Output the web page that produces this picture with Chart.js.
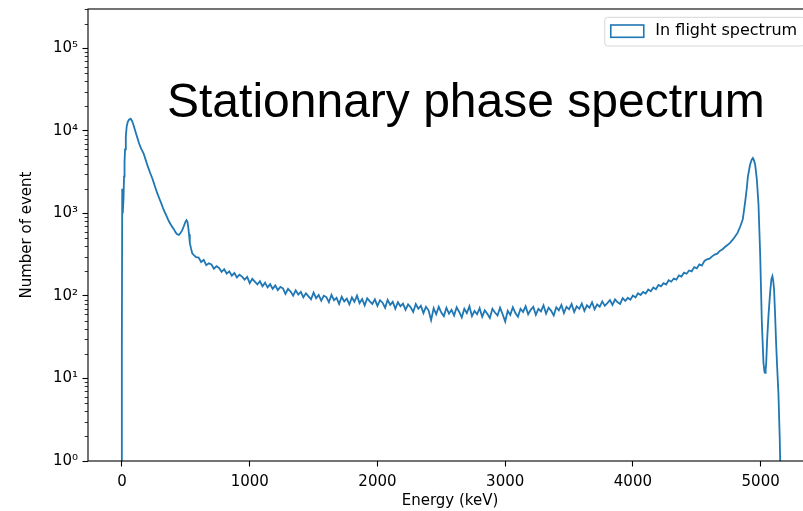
<!DOCTYPE html>
<html><head><meta charset="utf-8">
<script src="https://cdn.jsdelivr.net/npm/chart.js@4"></script>
<style>
html,body{margin:0;padding:0;background:#fff;overflow:hidden;width:803px;height:511px}
#wrap{position:relative;width:820px;height:511px}
#c{position:absolute;left:0;top:0}
#note{position:absolute;left:167px;top:78px;font-family:"Liberation Sans",Arial,sans-serif;font-size:48px;line-height:46px;color:#000;white-space:nowrap}
</style></head><body>
<div id="wrap"><canvas id="c" width="820" height="511"></canvas><div id="note">Stationnary phase spectrum</div></div>
<script>
const seriesLabel = 'In flight spectrum';
const xTitle = 'Energy (keV)';
const yTitle = 'Number of event';
const xTickValues = [0, 1000, 2000, 3000, 4000, 5000];
const yTickValues = [1, 10, 100, 1000, 10000, 100000];
const yTickLabels = ['10⁰', '10¹', '10²', '10³', '10⁴', '10⁵'];

// low-energy part (keV, counts)
const lowEnergies = [-20, -1, -1, 2, 4, 6, 8, 12, 16, 20, 24, 30, 37, 45, 55, 68, 78, 89, 100, 116, 135, 150, 168, 185, 200, 221, 240, 255, 274, 290, 310, 326, 345, 366, 385, 405, 420, 432, 445, 458, 470, 484, 495, 505, 512, 518, 525, 531, 540, 550, 565, 580];
const lowCounts = [0.3, 0.3, 25, 2000, 1200, 1900, 1000, 1500, 2800, 4200, 6000, 8500, 11400, 12800, 13700, 14100, 13300, 12000, 10500, 8700, 7000, 6100, 5400, 4500, 3800, 3100, 2600, 2200, 1800, 1550, 1300, 1110, 960, 810, 720, 650, 590, 560, 550, 580, 620, 700, 780, 830, 800, 700, 560, 440, 380, 330, 310, 295];

// continuum, 20 keV bins starting at 600 keV
const midStart = 600;
const midBinWidth = 20;
const midCounts = [
  292,258,274,236,249,241,214,230,219,196,
  211,187,199,176,190,168,181,172,158,170,
  143,162,149,138,151,131,145,127,139,122,
  134,118,129,124,106,122,113,101,117,104,
  112,96,108,99,91,110,94,103,88,101,
  97,84,103,89,95,80,98,86,93,79,
  96,85,101,82,92,77,94,86,80,91,
  76,89,83,72,90,78,85,70,84,75,
  81,68,79,73,64,80,70,76,62,74,
  67,51,71,60,74,63,57,72,61,68,
  58,73,64,55,70,62,75,57,66,60,
  71,56,67,61,54,70,63,58,72,60,
  49,66,59,73,62,56,70,64,75,60,
  68,74,59,70,65,77,61,72,66,58,
  73,67,78,62,74,69,80,64,75,70,
  81,66,77,72,84,69,79,74,86,76,
  82,89,78,91,84,80,94,87,
  95,90,101,96,108,103,112,107,120,114,
  127,121,136,131,143,138,155,149,163,158,
  178,172,192,186,204,199,224,216,241,233,
  266,278,284,302,318,326,352,366,392,414,
  440,478,525,585
];

// high-energy peaks (keV, counts)
const highEnergies = [4841, 4860, 4878, 4891, 4900, 4917, 4930, 4939, 4948, 4957, 4970, 4983, 4996, 5009, 5022, 5030, 5035, 5039, 5043, 5051, 5061, 5074, 5084, 5092, 5099, 5105, 5113, 5121, 5129, 5139, 5149, 5153, 5158, 5170];
const highCounts = [700, 850, 1350, 2000, 2800, 3900, 4500, 4700, 4400, 3900, 2600, 1300, 330, 50, 15.5, 12, 11.7, 13, 14.8, 30, 57, 109, 160, 174, 150, 120, 60, 27, 14, 6.7, 2, 1, 0.3, 0.3];

const points = [];
lowEnergies.forEach((e, i) => points.push({x: e, y: lowCounts[i]}));
midCounts.forEach((c, i) => points.push({x: midStart + i * midBinWidth, y: c}));
highEnergies.forEach((e, i) => points.push({x: e, y: highCounts[i]}));

const lineColor = '#1f77b4';
const FONT = 'DejaVu Sans';

const framePlugin = {
  id: 'frame',
  afterDatasetsDraw(chart) {
    const {ctx, chartArea: a} = chart;
    const ys = chart.scales.y;
    ctx.save();
    ctx.strokeStyle = '#000';
    ctx.lineWidth = 0.8;
    for (let d = 0; d < 6; d++) {
      for (let m = 2; m <= 9; m++) {
        const v = m * Math.pow(10, d);
        if (v > ys.max) continue;
        const py = Math.round(ys.getPixelForValue(v)) + 0.5;
        ctx.beginPath();
        ctx.moveTo(a.left - 3.3, py);
        ctx.lineTo(a.left, py);
        ctx.stroke();
      }
    }
    ctx.lineWidth = 1.1;
    ctx.strokeStyle = '#000';
    ctx.strokeRect(a.left, a.top, a.right - a.left, a.bottom - a.top);
    // legend
    ctx.font = '16px "' + FONT + '"';
    const tw = ctx.measureText(seriesLabel).width;
    const boxR = a.right - 7.5, boxT = a.top + 8.3;
    const boxH = 28.7;
    const boxW = 6 + 33 + 11.6 + tw + 7.3;
    const boxL = boxR - boxW;
    ctx.fillStyle = 'rgba(255,255,255,0.8)';
    ctx.strokeStyle = 'rgba(204,204,204,0.8)';
    ctx.lineWidth = 1;
    ctx.beginPath();
    ctx.roundRect(boxL, boxT, boxW, boxH, 3);
    ctx.fill();
    ctx.stroke();
    const hx = boxL + 6, hy = boxT + 7.7;
    ctx.strokeStyle = lineColor;
    ctx.lineWidth = 1.6;
    ctx.strokeRect(hx, hy, 33, 12.3);
    ctx.fillStyle = '#000';
    ctx.textBaseline = 'middle';
    ctx.textAlign = 'left';
    ctx.fillText(seriesLabel, hx + 33 + 11.6, hy + 6.2);
    ctx.restore();
  }
};

new Chart(document.getElementById('c'), {
  type: 'line',
  data: {
    datasets: [{
      label: seriesLabel,
      data: points,
      borderColor: lineColor,
      borderWidth: 1.8,
      pointRadius: 0,
      tension: 0,
      fill: false
    }]
  },
  options: {
    responsive: false,
    animation: false,
    devicePixelRatio: 1,
    layout: {padding: {top: 9, right: 8, bottom: 0, left: 0}},
    plugins: {legend: {display: false}, tooltip: {enabled: false}, title: {display: false}},
    scales: {
      x: {
        type: 'linear',
        min: -266,
        max: 5402,
        afterFit: s => { s.height = 50; s.paddingLeft = 0; s.paddingRight = 0; },
        afterBuildTicks: s => { s.ticks = xTickValues.map(v => ({value: v})); },
        border: {display: false},
        grid: {drawOnChartArea: false, drawTicks: true, tickLength: 5.5, tickColor: '#000', tickWidth: 1.1},
        ticks: {autoSkip: false, maxRotation: 0, padding: 7, color: '#000', font: {family: FONT, size: 15},
          callback: v => String(v)},
        title: {display: true, text: xTitle, color: '#000', font: {family: FONT, size: 15}, padding: {top: 0, bottom: 1}}
      },
      y: {
        type: 'logarithmic',
        min: 1,
        max: 301000,
        afterFit: s => { s.width = 88; s.paddingTop = 0; s.paddingBottom = 0; },
        afterBuildTicks: s => { s.ticks = yTickValues.map(v => ({value: v})); },
        border: {display: false},
        grid: {drawOnChartArea: false, drawTicks: true, tickLength: 5.5, tickColor: '#000', tickWidth: 1.1},
        ticks: {autoSkip: false, padding: 4.5, color: '#000', font: {family: FONT, size: 15},
          callback: v => yTickLabels[yTickValues.indexOf(Number(v))]},
        title: {display: true, text: yTitle, color: '#000', font: {family: FONT, size: 15}, padding: {top: 18, bottom: 0}}
      }
    }
  },
  plugins: [framePlugin]
});
</script>
</body></html>
